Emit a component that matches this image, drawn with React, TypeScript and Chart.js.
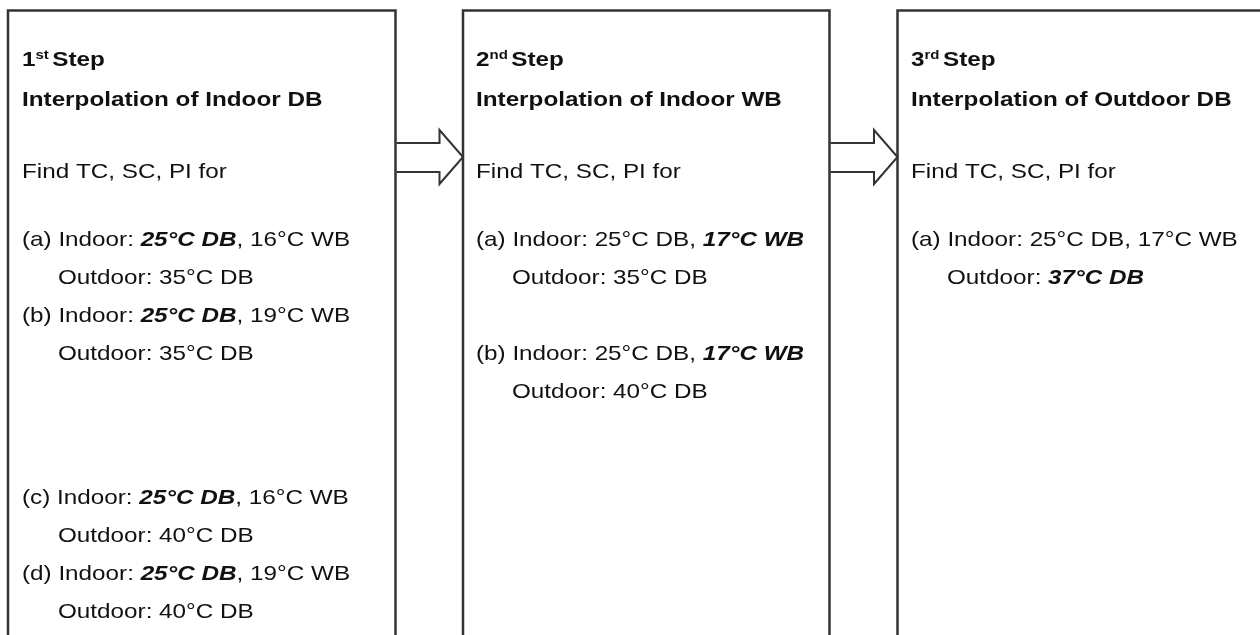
import React, { useEffect, useRef } from "react";
import { Chart, registerables } from "chart.js";

Chart.register(...registerables);

// ---- content data ----
const stepNumbers = ["1", "2", "3"];
const stepSuffixes = ["st", "nd", "rd"];
const stepTitles = [
  "Interpolation of Indoor DB",
  "Interpolation of Indoor WB",
  "Interpolation of Outdoor DB",
];
const findLabel = "Find TC, SC, PI for";

const step1Labels = ["(a)", "(b)", "(c)", "(d)"];
const step1IndoorDB = ["25°C DB", "25°C DB", "25°C DB", "25°C DB"];
const step1IndoorWB = ["16°C WB", "19°C WB", "16°C WB", "19°C WB"];
const step1OutdoorDB = ["35°C DB", "35°C DB", "40°C DB", "40°C DB"];
const step1Rows = [0, 2, 6.8, 8.8];

const step2Labels = ["(a)", "(b)"];
const step2IndoorDB = ["25°C DB", "25°C DB"];
const step2IndoorWB = ["17°C WB", "17°C WB"];
const step2OutdoorDB = ["35°C DB", "40°C DB"];
const step2Rows = [0, 3];

const step3Labels = ["(a)"];
const step3IndoorDB = ["25°C DB"];
const step3IndoorWB = ["17°C WB"];
const step3OutdoorDB = ["37°C DB"];
const step3Rows = [0];

// which quantity is emphasised in each step: 0 = indoor DB, 1 = indoor WB, 2 = outdoor DB
const stepEmphasis = [0, 1, 2];

// ---- layout (diagram units = page pixels) ----
const boxLeft = [8, 463, 897.5];
const boxRight = [395.5, 829.5, 1275];
const boxTop = 10.5;
const boxBottom = 640;
const textLeft = [22, 476, 911];
const titleBase = [66, 106, 178];
const caseBase0 = 246;
const rowStep = 38;
const outdoorIndent = 36;
const arrowShaft = [143, 172];
const arrowHead = [130, 184];

type Seg = { t: string; bold?: boolean; italic?: boolean; sup?: boolean };

const FONT = '"Liberation Sans", Arial, sans-serif';
const SIZE = 21;
const STRETCH = 1.155;

function fontFor(s: Seg) {
  const size = s.sup ? 13 : SIZE;
  return `${s.italic ? "italic " : ""}${s.bold ? "bold " : ""}${size}px ${FONT}`;
}

function drawLine(ctx: CanvasRenderingContext2D, x: number, y: number, segs: Seg[]) {
  ctx.save();
  ctx.translate(x, y);
  ctx.scale(STRETCH, 1);
  let cx = 0;
  for (const s of segs) {
    ctx.font = fontFor(s);
    ctx.fillText(s.t, cx, s.sup ? -7 : 0);
    cx += ctx.measureText(s.t).width + (s.sup ? 3 : 0);
  }
  ctx.restore();
}

const diagramPlugin = {
  id: "diagram",
  afterDraw(chart: any) {
    const ctx: CanvasRenderingContext2D = chart.ctx;
    const xs = chart.scales.x;
    const ys = chart.scales.y;
    const px = (v: number) => xs.getPixelForValue(v);
    const py = (v: number) => ys.getPixelForValue(v);

    ctx.save();
    ctx.fillStyle = "#ffffff";
    ctx.fillRect(0, 0, chart.width, chart.height);

    // boxes
    ctx.strokeStyle = "#333333";
    ctx.lineWidth = 2.5;
    for (let i = 0; i < 3; i++) {
      ctx.beginPath();
      ctx.moveTo(px(boxLeft[i]), py(boxBottom));
      ctx.lineTo(px(boxLeft[i]), py(boxTop));
      ctx.lineTo(px(boxRight[i]), py(boxTop));
      ctx.lineTo(px(boxRight[i]), py(boxBottom));
      ctx.stroke();
    }

    // arrows
    ctx.lineWidth = 2;
    ctx.lineJoin = "miter";
    for (let i = 0; i < 2; i++) {
      const x0 = boxRight[i] + 1;
      const tip = boxLeft[i + 1];
      const headX = tip - 23.5;
      const midY = (arrowHead[0] + arrowHead[1]) / 2;
      ctx.beginPath();
      ctx.moveTo(px(x0), py(arrowShaft[0]));
      ctx.lineTo(px(headX), py(arrowShaft[0]));
      ctx.lineTo(px(headX), py(arrowHead[0]));
      ctx.lineTo(px(tip), py(midY));
      ctx.lineTo(px(headX), py(arrowHead[1]));
      ctx.lineTo(px(headX), py(arrowShaft[1]));
      ctx.lineTo(px(x0), py(arrowShaft[1]));
      ctx.stroke();
    }

    // text
    ctx.fillStyle = "#111111";
    ctx.textBaseline = "alphabetic";
    const steps = [
      [step1Labels, step1IndoorDB, step1IndoorWB, step1OutdoorDB, step1Rows],
      [step2Labels, step2IndoorDB, step2IndoorWB, step2OutdoorDB, step2Rows],
      [step3Labels, step3IndoorDB, step3IndoorWB, step3OutdoorDB, step3Rows],
    ] as [string[], string[], string[], string[], number[]][];

    for (let i = 0; i < 3; i++) {
      const x = px(textLeft[i]);
      drawLine(ctx, x, py(titleBase[0]), [
        { t: stepNumbers[i], bold: true },
        { t: stepSuffixes[i], bold: true, sup: true },
        { t: "Step", bold: true },
      ]);
      drawLine(ctx, x, py(titleBase[1]), [{ t: stepTitles[i], bold: true }]);
      drawLine(ctx, x, py(titleBase[2]), [{ t: findLabel }]);

      const [labels, idb, iwb, odb, rows] = steps[i];
      const em = stepEmphasis[i];
      for (let k = 0; k < labels.length; k++) {
        const y1 = caseBase0 + rows[k] * rowStep;
        drawLine(ctx, x, py(y1), [
          { t: labels[k] + " Indoor: " },
          { t: idb[k], bold: em === 0, italic: em === 0 },
          { t: ", " },
          { t: iwb[k], bold: em === 1, italic: em === 1 },
        ]);
        drawLine(ctx, px(textLeft[i] + outdoorIndent), py(y1 + rowStep), [
          { t: "Outdoor: " },
          { t: odb[k], bold: em === 2, italic: em === 2 },
        ]);
      }
    }
    ctx.restore();
  },
};

export default function App() {
  const canvasRef = useRef<HTMLCanvasElement | null>(null);

  useEffect(() => {
    if (!canvasRef.current) return;
    const chart = new Chart(canvasRef.current, {
      type: "scatter",
      data: { datasets: [{ data: [], pointRadius: 0 }] },
      options: {
        animation: false,
        responsive: true,
        maintainAspectRatio: false,
        layout: { padding: 0 },
        events: [],
        scales: {
          x: { type: "linear", min: 0, max: 1260, display: false },
          y: { type: "linear", min: 0, max: 635, reverse: true, display: false },
        },
        plugins: { legend: { display: false }, tooltip: { enabled: false } },
      },
      plugins: [diagramPlugin],
    });
    return () => chart.destroy();
  }, []);

  return (
    <div
      style={{
        position: "fixed",
        left: 0,
        top: 0,
        width: 1260,
        height: 635,
        background: "#fff",
      }}
    >
      <canvas ref={canvasRef} />
    </div>
  );
}
